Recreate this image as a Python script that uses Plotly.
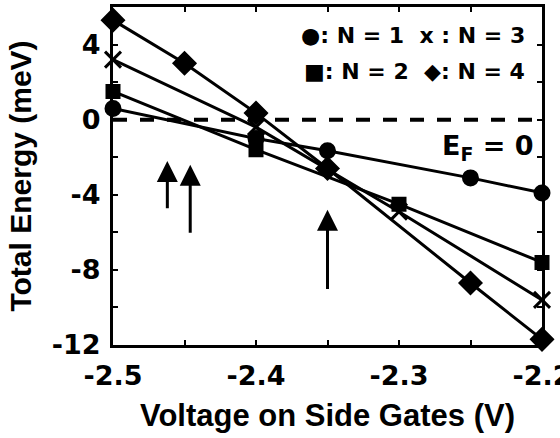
import plotly.graph_objects as go

# Data
v1 = [-2.5, -2.4, -2.35, -2.25, -2.2]
e1 = [0.6, -1.0, -1.65, -3.1, -3.9]

v2 = [-2.5, -2.4, -2.3, -2.2]
e2 = [1.5, -1.6, -4.5, -7.6]

v3 = [-2.5, -2.4, -2.3, -2.2]
e3 = [3.2, -0.4, -4.9, -9.6]

v4 = [-2.5, -2.45, -2.4, -2.35, -2.25, -2.2]
e4 = [5.3, 3.0, 0.35, -2.6, -8.7, -11.7]

# tick positions (every tick mark) and their labels (blank = unlabelled tick)
x_tickvals = [-2.5, -2.45, -2.4, -2.35, -2.3, -2.25, -2.2]
x_ticktext = ["-2.5", "", "-2.4", "", "-2.3", "", "-2.2"]
y_tickvals = [6, 4, 2, 0, -2, -4, -6, -8, -10, -12]
y_ticktext = ["", "4", "", "0", "", "-4", "", "-8", "", "-12"]

# arrows: (voltage, tip energy, tail energy)
arrow_v = [-2.462, -2.446, -2.350]
arrow_tip = [-2.2, -2.4, -4.8]
arrow_tail = [-4.8, -6.1, -9.1]

FONT = "Liberation Sans"
WFONT = "DejaVu Sans"
BLACK = "black"

fig = go.Figure()

# Fermi level dashed line
fig.add_trace(go.Scatter(x=[-2.5, -2.2], y=[0, 0], mode="lines",
                         line=dict(color=BLACK, width=4, dash="14px,13px"),
                         showlegend=False, hoverinfo="skip", cliponaxis=False))

series = [
    (v1, e1, "circle", 14, "N = 1"),
    (v2, e2, "square", 12, "N = 2"),
    (v3, e3, "x-thin", 16, "N = 3"),
    (v4, e4, "diamond", 16, "N = 4"),
]
for xs, ys, sym, size, name in series:
    fig.add_trace(go.Scatter(
        x=xs, y=ys, mode="lines+markers", name=name,
        line=dict(color=BLACK, width=3),
        marker=dict(symbol=sym, size=size, color=BLACK,
                    line=dict(color=BLACK, width=3)),
        cliponaxis=False, showlegend=False))

# invisible trace that makes the top / right frame axes exist
fig.add_trace(go.Scatter(x=v4, y=e4, xaxis="x2", yaxis="y2", mode="markers",
                         marker=dict(opacity=0), hoverinfo="skip",
                         showlegend=False))

annotations = []
for xv, tip, tail in zip(arrow_v, arrow_tip, arrow_tail):
    annotations.append(dict(x=xv, y=tip, ax=xv, ay=tail, xref="x", yref="y",
                            axref="x", ayref="y", text="", showarrow=True,
                            arrowhead=2, arrowsize=1.4, arrowwidth=3,
                            arrowcolor=BLACK))

annotations.append(dict(x=0.965, y=0.915, xref="paper", yref="paper",
                        xanchor="right", yanchor="middle", showarrow=False,
                        text="●: N = 1  x : N = 3",
                        font=dict(family=WFONT, size=22, color=BLACK, weight="bold")))
annotations.append(dict(x=0.965, y=0.81, xref="paper", yref="paper",
                        xanchor="right", yanchor="middle", showarrow=False,
                        text="■: N = 2  ◆: N = 4",
                        font=dict(family=WFONT, size=22, color=BLACK, weight="bold")))
annotations.append(dict(x=0.985, y=0.585, xref="paper", yref="paper",
                        xanchor="right", yanchor="middle", showarrow=False,
                        text="E<sub>F</sub> = 0",
                        font=dict(family=WFONT, size=27, color=BLACK, weight="bold")))

fig.update_layout(
    width=560, height=438,
    margin=dict(l=113, r=18, t=7, b=93),
    paper_bgcolor="white", plot_bgcolor="white",
    font=dict(family=FONT, color=BLACK),
    annotations=annotations,
    showlegend=False,
)

common_axis = dict(ticks="inside", ticklen=5, tickwidth=2, tickcolor=BLACK,
                   showline=True, linewidth=3, linecolor=BLACK, mirror=True,
                   showgrid=False, zeroline=False, automargin=False)

fig.update_layout(
    xaxis=dict(
        range=[-2.5, -2.2], tickvals=x_tickvals, ticktext=x_ticktext,
        ticklabeloverflow="allow", ticklabelstandoff=5,
        tickfont=dict(family=WFONT, size=27, color=BLACK, weight="bold"),
        title=dict(text="Voltage on Side Gates (V)", standoff=14,
                   font=dict(family=FONT, size=31, color=BLACK, weight="bold")),
        **common_axis),
    yaxis=dict(
        range=[-12, 6], tickvals=y_tickvals, ticktext=y_ticktext,
        ticklabeloverflow="allow", ticklabelstandoff=4,
        tickfont=dict(family=WFONT, size=27, color=BLACK, weight="bold"),
        title=dict(text="Total Energy (meV)", standoff=12,
                   font=dict(family=FONT, size=30, color=BLACK, weight="bold")),
        **common_axis),
    xaxis2=dict(overlaying="x", side="top", anchor="y2", range=[-2.5, -2.2],
                tickvals=x_tickvals, showticklabels=False, **common_axis),
    yaxis2=dict(overlaying="y", side="right", anchor="x2", range=[-12, 6],
                tickvals=y_tickvals, showticklabels=False, **common_axis),
)

fig.write_html("out.html", config={"displayModeBar": False},
               post_script="document.body.style.margin='0';")
